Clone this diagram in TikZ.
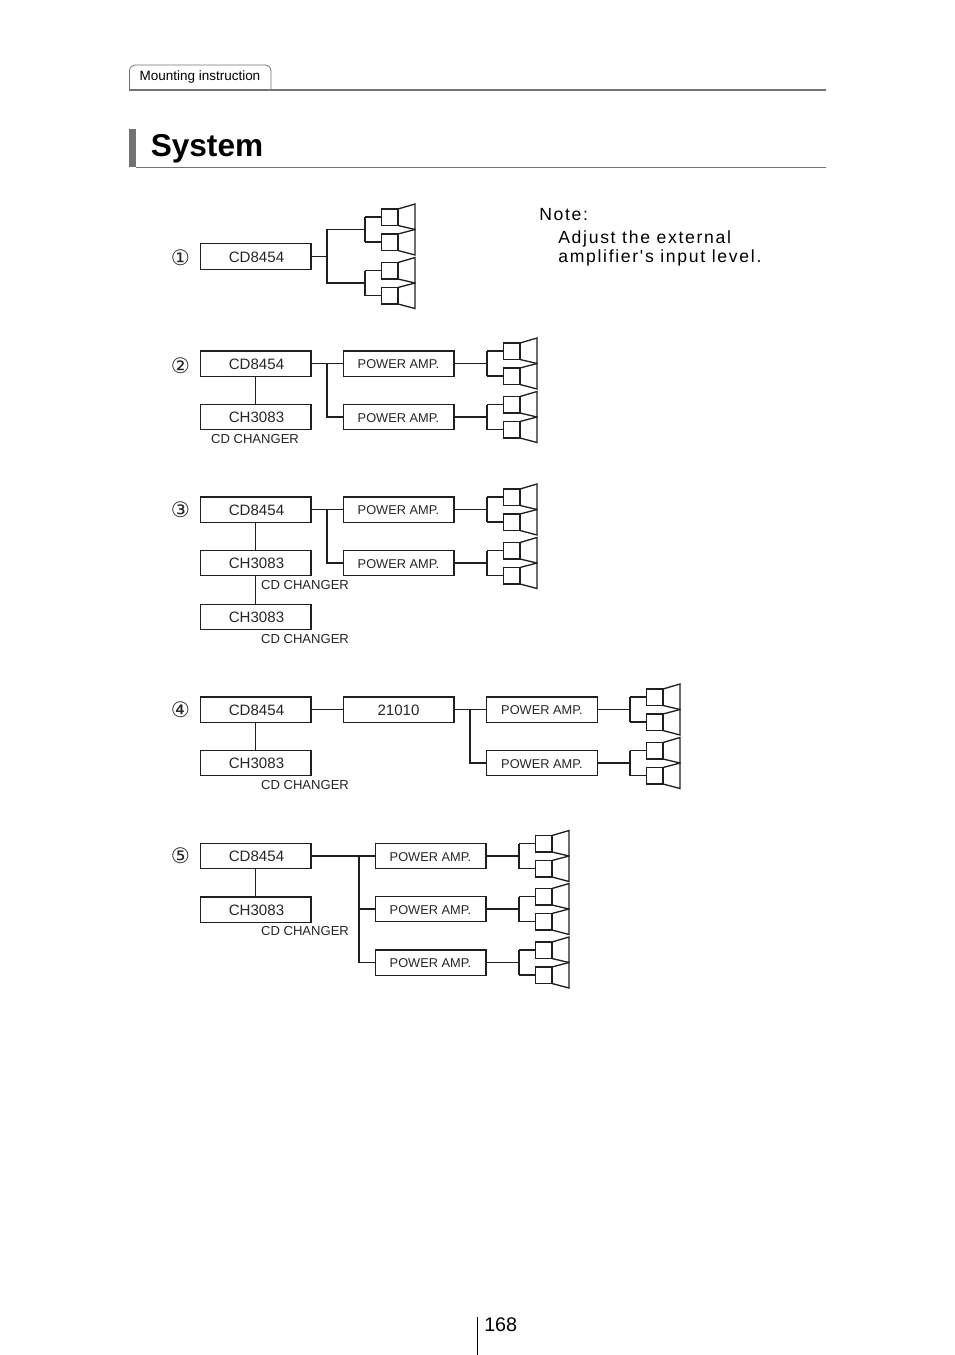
\documentclass[tikz,border=0pt]{standalone}
\usepackage{fontspec}
\setmainfont{Liberation Sans}
\newfontfamily\dejafont{DejaVu Sans}
\newfontfamily\notefont[LetterSpace=9.6]{Liberation Sans}
\definecolor{ln}{gray}{0.12}
\definecolor{rulegray}{gray}{0.45}
\tikzset{
  wire/.style={draw=ln,line width=1pt},
  unitbox/.style={draw=ln,line width=1pt,minimum width=83pt,minimum height=19pt,inner sep=0pt,font=\fontsize{11.3}{13}\selectfont,text=black!85,text depth=0pt,text height=8.6pt},
  ampbox/.style={unitbox,font=\fontsize{9.6}{11}\selectfont,text height=7.6pt},
  changer/.style={inner sep=0pt,font=\fontsize{9.8}{11}\selectfont,text=black!85},
  numlabel/.style={inner sep=0pt,font=\dejafont\fontsize{16}{18}\selectfont,text=black!85},
  notetext/.style={inner sep=0pt,anchor=west,font=\notefont\fontsize{13.2}{15}\selectfont,text=black}
}
% speaker pair: #1 name of its stem point, #2 x, #3 y
\newcommand{\spkpair}[3]{%
  \coordinate (#1) at (#2,#3);
  \begin{scope}[shift={(#2,#3)}]
    \draw[wire] (16.5,-20.5) rectangle (33,-4);
    \draw[wire] (16.5,4.5) rectangle (33,21);
    \draw[wire] (0,-12.5) -- (0,12.5);
    \draw[wire] (0,-12.5) -- (16.5,-12.5);
    \draw[wire] (0,12.5) -- (16.5,12.5);
    \draw[wire,line join=miter] (33,-20.5) -- (50,-25.5) -- (50,0) -- (33,-4);
    \draw[wire,line join=miter] (33,4.5) -- (50,0) -- (50,25.5) -- (33,21);
  \end{scope}}
\begin{document}
\begin{tikzpicture}[x=0.75pt,y=-0.75pt]
\useasboundingbox (0,0) rectangle (954,1355);
% header
\node[inner sep=0pt,font=\fontsize{10.1}{12}\selectfont] (tabtext) at (200,77) {Mounting instruction};
\draw[draw=rulegray,line width=0.6pt,rounded corners=4.5pt] (129.5,90) -- (129.5,65) -- (271,65) -- (271,90);
\draw[rulegray,line width=1.4pt] (129,90) -- (826,90);
\fill[rulegray] (129,129) rectangle (136,167.5);
\draw[rulegray,line width=0.7pt] (136,167.5) -- (826,167.5);
\node[inner sep=0pt,anchor=west,font=\bfseries\fontsize{23.7}{28}\selectfont] (title) at (150.5,149) {System};
% note
\node[notetext] (note0) at (539,215) {Note:};
\node[notetext] (note1) at (558,238.5) {Adjust the external};
\node[notetext] (note2) at (558,257.5) {amplifier's input level.};
% 1
\node[numlabel] (n1) at (180.5,257.5) {①};
\node[unitbox] (cd1) at (255.5,256.5) {\hspace{1.5pt}CD8454};
\coordinate (b1) at (327,256.5);
\spkpair{p1a}{365}{229.5}
\spkpair{p1b}{365}{283}
\draw[wire] (cd1.east) -- (b1);
\draw[wire] (p1a) -| (b1);
\draw[wire] (p1b) -| (b1);
% 2
\node[numlabel] (n2) at (180.5,365.5) {②};
\node[unitbox] (cd2) at (255.5,363.5) {\hspace{1.5pt}CD8454};
\node[unitbox] (ch2) at (255.5,417) {\hspace{1.5pt}CH3083};
\node[changer] (lab2) at (255,439) {CD CHANGER};
\node[ampbox] (a2a) at (398.5,363.5) {POWER AMP.};
\node[ampbox] (a2b) at (398.5,417) {POWER AMP.};
\coordinate (b2) at (327,363.5);
\spkpair{p2a}{487}{363.5}
\spkpair{p2b}{487}{417}
\draw[wire] (cd2) -- (ch2);
\draw[wire] (cd2) -- (a2a);
\draw[wire] (b2) |- (a2b);
\draw[wire] (a2a) -- (p2a);
\draw[wire] (a2b) -- (p2b);
% 3
\node[numlabel] (n3) at (180.5,509.5) {③};
\node[unitbox] (cd3) at (255.5,509.5) {\hspace{1.5pt}CD8454};
\node[unitbox] (ch3a) at (255.5,563) {\hspace{1.5pt}CH3083};
\node[unitbox] (ch3b) at (255.5,617) {\hspace{1.5pt}CH3083};
\node[changer] (lab3a) at (305,585) {CD CHANGER};
\node[changer] (lab3b) at (305,638.5) {CD CHANGER};
\node[ampbox] (a3a) at (398.5,509.5) {POWER AMP.};
\node[ampbox] (a3b) at (398.5,563) {POWER AMP.};
\coordinate (b3) at (327,509.5);
\spkpair{p3a}{487}{509.5}
\spkpair{p3b}{487}{563}
\draw[wire] (cd3) -- (ch3a);
\draw[wire] (ch3a) -- (ch3b);
\draw[wire] (cd3) -- (a3a);
\draw[wire] (b3) |- (a3b);
\draw[wire] (a3a) -- (p3a);
\draw[wire] (a3b) -- (p3b);
% 4
\node[numlabel] (n4) at (180.5,709.5) {④};
\node[unitbox] (cd4) at (255.5,709.5) {\hspace{1.5pt}CD8454};
\node[unitbox] (ch4) at (255.5,763) {\hspace{1.5pt}CH3083};
\node[changer] (lab4) at (305,785) {CD CHANGER};
\node[unitbox] (x4) at (398.5,709.5) {21010};
\node[ampbox] (a4a) at (542,709.5) {POWER AMP.};
\node[ampbox] (a4b) at (542,763) {POWER AMP.};
\coordinate (b4) at (470,709.5);
\spkpair{p4a}{630}{709.5}
\spkpair{p4b}{630}{763}
\draw[wire] (cd4) -- (ch4);
\draw[wire] (cd4) -- (x4);
\draw[wire] (x4) -- (a4a);
\draw[wire] (b4) |- (a4b);
\draw[wire] (a4a) -- (p4a);
\draw[wire] (a4b) -- (p4b);
% 5
\node[numlabel] (n5) at (180.5,855.5) {⑤};
\node[unitbox] (cd5) at (255.5,856) {\hspace{1.5pt}CD8454};
\node[unitbox] (ch5) at (255.5,909.5) {\hspace{1.5pt}CH3083};
\node[changer] (lab5) at (305,931) {CD CHANGER};
\node[ampbox] (a5a) at (430.5,856) {POWER AMP.};
\node[ampbox] (a5b) at (430.5,909) {POWER AMP.};
\node[ampbox] (a5c) at (430.5,962.5) {POWER AMP.};
\coordinate (b5) at (359,856);
\spkpair{p5a}{519}{856}
\spkpair{p5b}{519}{909}
\spkpair{p5c}{519}{962.5}
\draw[wire] (cd5) -- (ch5);
\draw[wire] (cd5) -- (a5a);
\draw[wire] (b5) |- (a5b);
\draw[wire] (b5) |- (a5c);
\draw[wire] (a5a) -- (p5a);
\draw[wire] (a5b) -- (p5b);
\draw[wire] (a5c) -- (p5c);
% page number
\draw[black,line width=0.7pt] (477.5,1317) -- (477.5,1355);
\node[inner sep=0pt,anchor=west,font=\fontsize{14.8}{17}\selectfont] (pg) at (484,1324.5) {168};
\end{tikzpicture}
\end{document}
